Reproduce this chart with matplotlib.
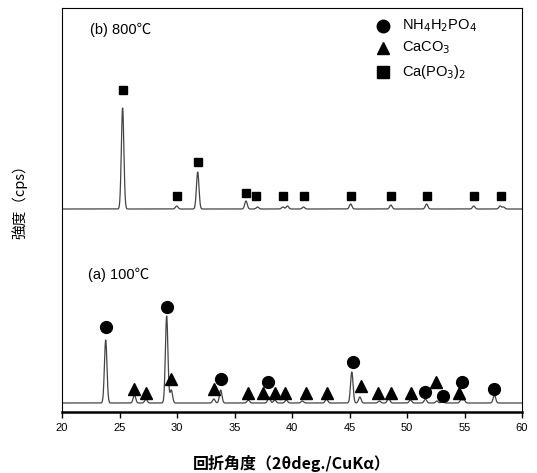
import numpy as np
import matplotlib.pyplot as plt

plt.rcParams['font.family'] = ['Liberation Sans', 'Noto Sans CJK JP', 'DejaVu Sans']

# (a) 100C pattern: peak positions (2theta) and heights
a_pos = [23.8, 26.3, 27.3, 29.1, 29.5, 33.2, 33.8, 36.2, 38.0, 38.5, 39.5, 40.9,
         43.0, 45.2, 45.9, 47.6, 48.4, 50.3, 51.6, 52.6, 53.1, 54.7, 54.95, 57.6]
a_hgt = [63, 8, 4, 87, 13, 4, 13, 3, 6, 3, 3, 2,
         4, 31, 6, 2, 5, 3, 4, 2, 2, 3, 3, 8]

# (b) 800C pattern
b_pos = [25.27, 29.97, 31.8, 36.0, 37.0, 39.2, 39.6, 41.0, 45.1, 48.6, 51.7, 55.8, 58.1, 58.4]
b_hgt = [101, 3, 37, 8, 2, 2, 3, 2, 5, 4, 5, 3, 3, 2]

a_base = 9
b_base = 203

# phase markers
a_circle_x = [23.8, 29.1, 33.8, 37.9, 45.3, 51.6, 53.1, 54.8, 57.6]
a_circle_y = [85, 105, 33, 30, 50, 20, 16, 30, 23]
a_tri_x = [26.3, 27.3, 29.5, 33.2, 36.2, 37.45, 38.5, 39.4, 41.2, 43.0, 46.0,
           47.5, 48.6, 50.35, 52.5, 54.55]
a_tri_y = [23, 19, 33, 23, 19, 19, 19, 19, 19, 19, 26, 19, 19, 19, 30, 19]
b_sq_x = [25.3, 30.0, 31.8, 36.0, 36.9, 39.2, 41.0, 45.1, 48.6, 51.7, 55.8, 58.2]
b_sq_y = [322, 216, 250, 219, 216, 216, 216, 216, 216, 216, 216, 216]


def pattern(x, pos, hgt, base):
    y = np.full_like(x, base, dtype=float)
    for p, h in zip(pos, hgt):
        y += h * np.exp(-0.5 * ((x - p) / 0.11) ** 2)
    return y


x = np.linspace(20, 60, 4000)

fig = plt.figure(figsize=(5.37, 4.73), dpi=100)
ax = fig.add_axes([62 / 537, 61 / 473, 460 / 537, 404 / 473])

ax.plot(x, pattern(x, a_pos, a_hgt, a_base), color='#444444', lw=0.9)
ax.plot(x, pattern(x, b_pos, b_hgt, b_base), color='#444444', lw=0.9)

ax.plot(a_circle_x, a_circle_y, 'o', color='black', ms=8.5, ls='none')
ax.plot(a_tri_x, a_tri_y, '^', color='black', ms=8, ls='none')
ax.plot(b_sq_x, b_sq_y, 's', color='black', ms=5.5, ls='none')

ax.set_xlim(20, 60)
ax.set_ylim(0, 404)
ax.set_xticks(np.arange(20, 61, 5))
ax.set_yticks([])
ax.tick_params(axis='x', direction='out', length=4, width=1, labelsize=8, pad=4)
for s in ['top', 'left', 'right']:
    ax.spines[s].set_linewidth(0.8)
ax.spines['bottom'].set_linewidth(1.8)

ax.text(22.4, 382, '(b) 800℃', fontsize=10.5, va='center')
ax.text(22.3, 137, '(a) 100℃', fontsize=10.5, va='center')

# legend
lx = 47.9
ax.plot([lx], [386], 'o', color='black', ms=9)
ax.plot([lx], [364], '^', color='black', ms=9)
ax.plot([lx], [340], 's', color='black', ms=8)
ax.text(49.6, 386, r'NH$_4$H$_2$PO$_4$', fontsize=10.5, va='center')
ax.text(49.6, 364, r'CaCO$_3$', fontsize=10.5, va='center')
ax.text(49.6, 340, r'Ca(PO$_3$)$_2$', fontsize=10.5, va='center')

ax.set_xlabel('回折角度（2θdeg./CuKα）', fontsize=11.5, labelpad=16,
              family=['Noto Sans CJK JP', 'DejaVu Sans'], fontweight='bold')
ax.set_ylabel('強度（cps）', fontsize=10.5,
              family=['Noto Sans CJK JP', 'DejaVu Sans'])
ax.yaxis.set_label_coords(-0.075, 0.53)

fig.savefig('out.png', dpi=100)
